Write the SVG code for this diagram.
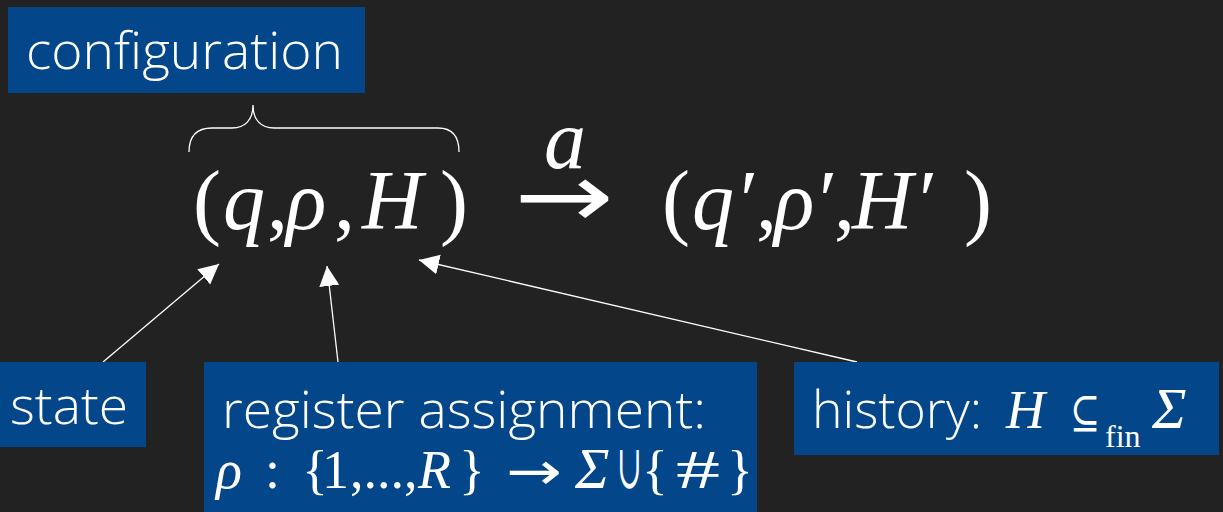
<svg xmlns="http://www.w3.org/2000/svg" width="1223" height="512" viewBox="0 0 1223 512">
<style>
.box{fill:#03478a}
.lbl{font-family:"Open Sans","Liberation Sans",sans-serif;font-weight:300;fill:#fff}
.m{font-family:"Liberation Serif","DejaVu Serif",serif;fill:#fff}
.ar{font-family:"DejaVu Sans",sans-serif;fill:#fff}
.i{font-style:italic}
.con{stroke:#fff;stroke-width:1.3;fill:none}
</style>
<defs>
<marker id="ah" markerUnits="userSpaceOnUse" markerWidth="22" markerHeight="22" refX="20" refY="10" orient="auto">
<path d="M0,0 L20,10 L0,20 z" fill="#fff"/>
</marker>
</defs>
<rect width="1223" height="512" fill="#222222"/>
<g id="configuration">
<rect class="box" x="8" y="7" width="357" height="86"/>
<text class="lbl" x="26" y="69" font-size="52" textLength="317" lengthAdjust="spacingAndGlyphs">configuration</text>
</g>
<g id="brace">
<path class="con" d="M189,152 C189,136 196,128 212,128 L232,128 C245,128 253,120 253,105 C253,120 261,128 274,128 L438,128 C452,128 459,136 459,152"/>
</g>
<g id="tuple1" class="m" font-size="84">
<text x="193" y="229">(</text>
<text class="i" x="223" y="229">q</text>
<text x="267" y="229">,</text>
<text class="i" x="286" y="229">ρ</text>
<text x="334" y="229">,</text>
<text class="i" x="362" y="229">H</text>
<text x="440" y="229">)</text>
</g>
<g id="step">
<text class="m i" x="544" y="168" font-size="84">a</text>
<text class="ar" x="514" y="227" font-size="90" textLength="100" lengthAdjust="spacingAndGlyphs">→</text>
</g>
<g id="tuple2" class="m" font-size="84">
<text x="662" y="229">(</text>
<text class="i" x="692" y="229">q</text>
<text x="740" y="229">′</text>
<text x="756" y="229">,</text>
<text class="i" x="774" y="229">ρ</text>
<text x="819" y="229">′</text>
<text x="834" y="229">,</text>
<text class="i" x="852" y="229">H</text>
<text x="919" y="229">′</text>
<text x="964" y="229">)</text>
</g>
<g id="connectors">
<line class="con" x1="103" y1="362" x2="219" y2="264" marker-end="url(#ah)"/>
<line class="con" x1="338" y1="362" x2="327" y2="266" marker-end="url(#ah)"/>
<line class="con" x1="857" y1="362" x2="419" y2="260" marker-end="url(#ah)"/>
</g>
<g id="state">
<rect class="box" x="0" y="362" width="146" height="85"/>
<text class="lbl" x="10" y="424" font-size="52" textLength="118" lengthAdjust="spacingAndGlyphs">state</text>
</g>
<g id="register">
<rect class="box" x="204" y="362" width="553" height="150"/>
<text class="lbl" x="222" y="428" font-size="52" textLength="484" lengthAdjust="spacingAndGlyphs">register assignment:</text>
<g class="m" font-size="54">
<text class="i" x="216" y="488">ρ</text>
<text x="265" y="488">:</text>
<text x="302" y="488">{</text>
<text x="322" y="488">1</text>
<text x="350" y="488">,...,</text>
<text class="i" x="418" y="488">R</text>
<text x="459" y="488">}</text>
<text class="ar" x="506" y="489" font-size="52" textLength="56" lengthAdjust="spacingAndGlyphs">→</text>
<text class="i" x="575" y="488" font-size="58">Σ</text>
<text x="617" y="488" font-size="62" textLength="25" lengthAdjust="spacingAndGlyphs">∪</text>
<text x="642" y="488">{</text>
<text x="676" y="488" textLength="44" lengthAdjust="spacingAndGlyphs">#</text>
<text x="727" y="488">}</text>
</g>
</g>
<g id="history">
<rect class="box" x="794" y="362" width="425" height="93"/>
<text class="lbl" x="812" y="428" font-size="52" textLength="170" lengthAdjust="spacingAndGlyphs">history:</text>
<g class="m">
<text class="i" x="1006" y="428" font-size="54">H</text>
<text x="1070" y="428" font-size="46" textLength="30" lengthAdjust="spacingAndGlyphs">⊆</text>
<text x="1105" y="447" font-size="32">fin</text>
<text class="i" x="1152" y="428" font-size="58">Σ</text>
</g>
</g>
</svg>
